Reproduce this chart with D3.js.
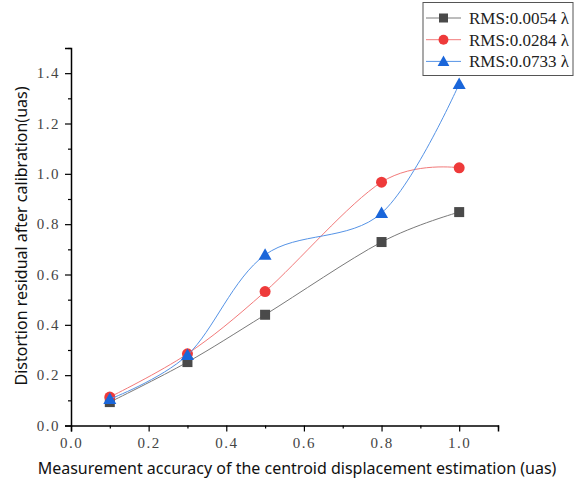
<!DOCTYPE html>
<html>
<head>
<meta charset="utf-8">
<script src="https://cdn.jsdelivr.net/npm/d3@7"></script>
<style>
body { margin: 0; background: #fff; }
svg { display: block; }
</style>
</head>
<body>
<div id="chart"></div>
<script>
var width = 577;
var height = 487;

// data
var xValues = [0.1, 0.3, 0.5, 0.8, 1.0];
var seriesNames = ["RMS:0.0054 \u03bb", "RMS:0.0284 \u03bb", "RMS:0.0733 \u03bb"];
var rms0054 = [0.093, 0.252, 0.440, 0.729, 0.848];
var rms0284 = [0.113, 0.285, 0.532, 0.967, 1.024];
var rms0733 = [0.105, 0.280, 0.678, 0.844, 1.357];
var xTicks = [0.0, 0.2, 0.4, 0.6, 0.8, 1.0];
var yTicks = [0.0, 0.2, 0.4, 0.6, 0.8, 1.0, 1.2, 1.4];

var series = [
	{name: seriesNames[0], values: rms0054, line: "#7a7a7a", mark: "#4a4a4a", shape: "square"},
	{name: seriesNames[1], values: rms0284, line: "#f27a7a", mark: "#ee3a3a", shape: "circle"},
	{name: seriesNames[2], values: rms0733, line: "#5593e6", mark: "#1a66da", shape: "triangle"}
];

var plotLeft = 71, plotRight = 498, plotTop = 48, plotBottom = 425.5;

var x = d3.scaleLinear().domain([0, 1.1]).range([plotLeft, plotRight]);
var y = d3.scaleLinear().domain([0, 1.5]).range([plotBottom, plotTop]);

var svg = d3.select("#chart").append("svg")
	.attr("width", width)
	.attr("height", height);

var tickFont = "'Liberation Serif', 'DejaVu Serif', serif";
var titleFont = "'Noto Sans', 'Open Sans', sans-serif";

// axes: major ticks with labels, minor ticks in between
function fmt(d) { return d3.format(".1f")(d); }

svg.append("g").attr("transform", "translate(0," + plotBottom + ")")
	.call(d3.axisBottom(x).tickValues(xTicks).tickFormat(fmt).tickSize(6).tickPadding(6));
svg.append("g").attr("transform", "translate(0," + plotBottom + ")")
	.call(d3.axisBottom(x).tickValues([0.1, 0.3, 0.5, 0.7, 0.9, 1.1]).tickFormat("").tickSize(3))
	.select(".domain").remove();

svg.append("g").attr("transform", "translate(" + plotLeft + ",0)")
	.call(d3.axisLeft(y).tickValues(yTicks).tickFormat(fmt).tickSize(6).tickPadding(5));
svg.append("g").attr("transform", "translate(" + plotLeft + ",0)")
	.call(d3.axisLeft(y).tickValues([0.1, 0.3, 0.5, 0.7, 0.9, 1.1, 1.3, 1.5]).tickFormat("").tickSize(3))
	.select(".domain").remove();

svg.selectAll(".domain").attr("stroke", "#000").attr("stroke-width", 1.5);
svg.selectAll(".tick line").attr("stroke", "#000").attr("stroke-width", 1.2);
svg.selectAll(".tick text")
	.attr("fill", "#444")
	.style("font-family", tickFont)
	.style("font-size", "15px")
	.style("letter-spacing", "1.5px");

// axis titles
svg.append("text")
	.text("Measurement accuracy of the centroid displacement estimation (uas)")
	.attr("x", 297)
	.attr("y", 474)
	.attr("text-anchor", "middle")
	.attr("fill", "#111")
	.style("font-family", titleFont)
	.style("font-size", "16px");

svg.append("text")
	.text("Distortion residual after calibration(uas)")
	.attr("transform", "translate(27,236) rotate(-90)")
	.attr("text-anchor", "middle")
	.attr("fill", "#111")
	.style("font-family", titleFont)
	.style("font-size", "16px");

// curves and markers
var line = d3.line()
	.x(function(d, i) { return x(xValues[i]); })
	.y(function(d) { return y(d); })
	.curve(d3.curveCardinal.tension(0));

function drawMark(g, shape, color, cx, cy, size) {
	var r = size / 2;
	if (shape == "square") {
		g.append("rect")
			.attr("x", cx - r).attr("y", cy - r)
			.attr("width", size).attr("height", size)
			.attr("fill", color);
	} else if (shape == "circle") {
		g.append("circle")
			.attr("cx", cx).attr("cy", cy).attr("r", r * 1.1)
			.attr("fill", color);
	} else {
		var t = r * 1.3;
		g.append("path")
			.attr("d", "M" + cx + "," + (cy - t) + "L" + (cx + t) + "," + (cy + r) + "L" + (cx - t) + "," + (cy + r) + "Z")
			.attr("fill", color);
	}
}

series.forEach(function(s) {
	svg.append("path")
		.datum(s.values)
		.attr("d", line)
		.attr("fill", "none")
		.attr("stroke", s.line)
		.attr("stroke-width", 1);
	var g = svg.append("g");
	s.values.forEach(function(v, i) {
		drawMark(g, s.shape, s.mark, x(xValues[i]), y(v), 10);
	});
});

// legend
var legend = svg.append("g");
legend.append("rect")
	.attr("x", 423).attr("y", 2.5)
	.attr("width", 150).attr("height", 73)
	.attr("fill", "#fff")
	.attr("stroke", "#555")
	.attr("stroke-width", 1);

series.forEach(function(s, i) {
	var ly = 18 + i * 21.7;
	legend.append("line")
		.attr("x1", 426).attr("x2", 461)
		.attr("y1", ly).attr("y2", ly)
		.attr("stroke", s.line)
		.attr("stroke-width", 1);
	drawMark(legend, s.shape, s.mark, 443.5, ly, 9);
	legend.append("text")
		.text(s.name)
		.attr("x", 469)
		.attr("y", ly + 6)
		.attr("fill", "#222")
		.style("font-family", tickFont)
		.style("font-size", "17px");
});
</script>
</body>
</html>
